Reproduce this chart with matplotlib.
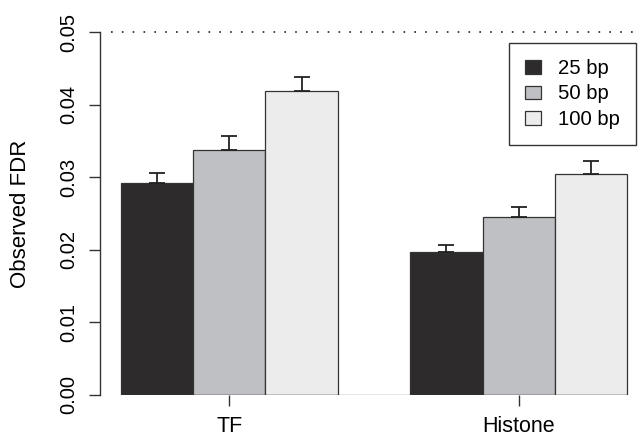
import numpy as np
import matplotlib
matplotlib.use("Agg")
import matplotlib.pyplot as plt

plt.rcParams['font.family'] = ['Liberation Sans', 'DejaVu Sans']

# Werte
groups = ['TF', 'Histone']
series = ['25 bp', '50 bp', '100 bp']
fdr_25 = [0.0292, 0.0197]
fdr_50 = [0.0338, 0.0245]
fdr_100 = [0.0419, 0.0304]
err_25 = [0.0014, 0.0010]
err_50 = [0.0019, 0.0014]
err_100 = [0.0019, 0.0018]
yticks = [0.00, 0.01, 0.02, 0.03, 0.04, 0.05]
fdr_level = 0.05

colors = ['#2e2b2c', '#bfc0c3', '#ececec']
edge = '#333333'

fig = plt.figure(figsize=(6.4, 4.37), dpi=100)
ax = fig.add_axes([100.4 / 640, 42 / 437, (640 - 100.4) / 640, 363 / 437])

values = [fdr_25, fdr_50, fdr_100]
errors = [err_25, err_50, err_100]

# Balken wie bei R barplot(beside=TRUE): Gruppenabstand = 1 Balkenbreite
group_start = np.array([1.0, 5.0])
for i, (vals, errs) in enumerate(zip(values, errors)):
    x = group_start + i + 0.5
    ax.bar(x, vals, width=1.0, color=colors[i], edgecolor=edge,
           linewidth=0.9, label=series[i], zorder=2)
    ax.errorbar(x, vals, yerr=[np.zeros(len(errs)), errs], fmt='none',
                ecolor='#222222', elinewidth=1.3, capsize=5.5, capthick=1.3,
                zorder=3)

# Grundlinie und gepunktete Linie bei 0.05
ax.hlines(0, 1, 8, color=edge, linewidth=0.9, zorder=3)
ax.hlines(fdr_level, 0.86, 9, color='#222222', linewidth=1.2,
          linestyles=(0, (1, 5.5)), clip_on=False, zorder=1)

ax.set_xlim(0.72, 0.72 + (640 - 100.4) / 72.37)
ax.set_ylim(0, 0.05)

for s in ['top', 'right', 'bottom']:
    ax.spines[s].set_visible(False)
ax.spines['left'].set_bounds(0, 0.05)
ax.spines['left'].set_color('#333333')
ax.spines['left'].set_linewidth(1.0)

ax.set_yticks(yticks)
ax.set_yticklabels([f'{t:.2f}' for t in yticks], rotation=90, va='center',
                   fontsize=14.5)
ax.set_xticks(group_start + 1.5)
ax.set_xticklabels(groups, fontsize=15.5)
ax.tick_params(axis='both', length=8, width=1.0, color='#333333')
ax.tick_params(axis='y', pad=8)
ax.tick_params(axis='x', pad=7)

ax.set_ylabel('Observed FDR', fontsize=16, labelpad=20)

leg = ax.legend(loc='upper right', bbox_to_anchor=(636 / 640, 1 - 42.7 / 437),
                bbox_transform=fig.transFigure, fontsize=14.6, frameon=True,
                fancybox=False, edgecolor='#333333', framealpha=1,
                handlelength=0.78, handleheight=0.65, handletextpad=0.85,
                labelspacing=0.32, borderpad=0.8, borderaxespad=0)
leg.get_frame().set_linewidth(1.0)

fig.savefig('out.png', dpi=100)
